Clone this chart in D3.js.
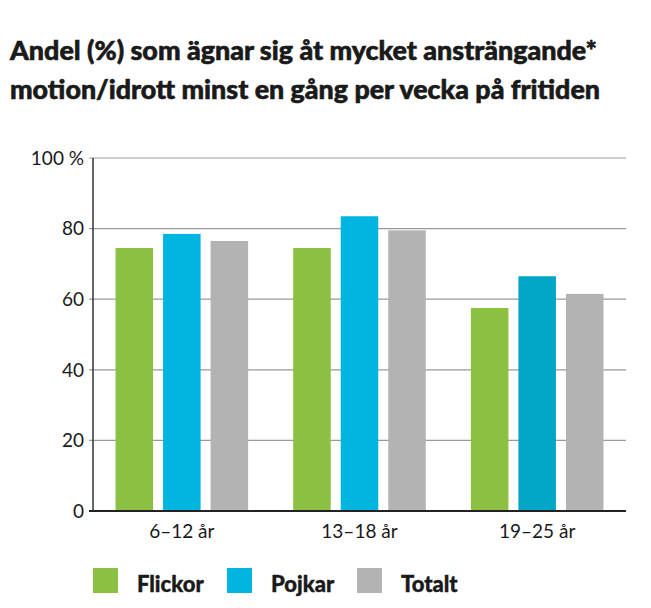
<!DOCTYPE html>
<html><head><meta charset="utf-8">
<script src="https://cdn.jsdelivr.net/npm/d3@7/dist/d3.min.js"></script>
<style>body{margin:0;background:#fff}svg{display:block}</style>
</head><body>
<script>
const titleLines = ["Andel (%) som ägnar sig åt mycket ansträngande*", "motion/idrott minst en gång per vecka på fritiden"];
const categories = ["6–12 år", "13–18 år", "19–25 år"];
const seriesNames = ["Flickor", "Pojkar", "Totalt"];
const flickor = [74.5, 74.5, 57.5];
const pojkar = [78.5, 83.5, 66.5];
const totalt = [76.5, 79.5, 61.5];
const yTicks = [0, 20, 40, 60, 80, 100];
const yTickLabels = ["0", "20", "40", "60", "80", "100 %"];
const colors = ["#8cc043", "#00b6e0", "#b3b3b3"];
const pojkarColorLast = "#02a6c6";

(function () {
const W = 651, H = 608;
const svg = d3.select("body").append("svg").attr("width", W).attr("height", H);
const font = "Lato, 'Open Sans', sans-serif";

// title
svg.selectAll("text.title").data(titleLines).join("text")
  .attr("class", "title")
  .attr("x", 10).attr("y", (d, i) => 60 + i * 39)
  .attr("font-family", font).attr("font-weight", 900).attr("font-size", 26)
  .attr("fill", "#1a1a1a").attr("stroke", "#1a1a1a").attr("stroke-width", 0.6)
  .attr("textLength", (d, i) => i === 0 ? 587 : 590).attr("lengthAdjust", "spacingAndGlyphs")
  .text(d => d);

const pl = 93, pr = 626, pt = 158, pb = 511;
const x0 = d3.scaleBand().domain(categories).range([pl, pr]).paddingInner(0).paddingOuter(0);
const x1 = d3.scaleBand().domain(seriesNames).range([x0.bandwidth() / 2 - 66.3, x0.bandwidth() / 2 + 66.3]).paddingInner(0.21).paddingOuter(0);
const y = d3.scaleLinear().domain([0, 100]).range([pb, pt]);

// gridlines
svg.append("g").selectAll("line").data(yTicks.filter(t => t > 0)).join("line")
  .attr("x1", pl - 4).attr("x2", pr).attr("y1", d => y(d)).attr("y2", d => y(d))
  .attr("stroke", "#9a9a9a").attr("stroke-width", 1.2);

// y labels
svg.append("g").selectAll("text").data(yTicks).join("text")
  .attr("x", 84).attr("y", d => y(d)).attr("dy", "0.36em")
  .attr("text-anchor", "end").attr("font-family", font).attr("font-size", 19).attr("fill", "#1a1a1a")
  .text((d, i) => yTickLabels[i]);

// bars
const rows = categories.map((c, i) => ({ c, vals: [flickor[i], pojkar[i], totalt[i]] }));
const g = svg.append("g");
rows.forEach((r, ci) => {
  g.append("g").selectAll("rect").data(r.vals).join("rect")
    .attr("x", (d, si) => x0(r.c) + x1(seriesNames[si]))
    .attr("width", x1.bandwidth())
    .attr("y", d => y(d))
    .attr("height", d => y(0) - y(d))
    .attr("fill", (d, si) => (si === 1 && ci === 2) ? pojkarColorLast : colors[si]);
});

// axes
svg.append("line").attr("x1", pl).attr("x2", pl).attr("y1", pt).attr("y2", pb)
  .attr("stroke", "#333").attr("stroke-width", 1.5);
svg.append("line").attr("x1", pl - 4).attr("x2", pr).attr("y1", pb).attr("y2", pb)
  .attr("stroke", "#222").attr("stroke-width", 1.8);

// x labels
svg.append("g").selectAll("text").data(categories).join("text")
  .attr("x", d => x0(d) + x0.bandwidth() / 2).attr("y", 538)
  .attr("text-anchor", "middle").attr("font-family", font).attr("font-size", 19).attr("fill", "#1a1a1a")
  .text(d => d);

// legend
const legX = [93, 227, 357];
const lg = svg.append("g");
seriesNames.forEach((s, i) => {
  lg.append("rect").attr("x", legX[i]).attr("y", 568).attr("width", 25).attr("height", 25).attr("fill", colors[i]);
  lg.append("text").attr("x", legX[i] + 44).attr("y", 592)
    .attr("font-family", font).attr("font-weight", 900).attr("font-size", 22)
    .attr("fill", "#1a1a1a").attr("stroke", "#1a1a1a").attr("stroke-width", 0.4)
    .text(s);
});
})();
</script>
</body></html>
